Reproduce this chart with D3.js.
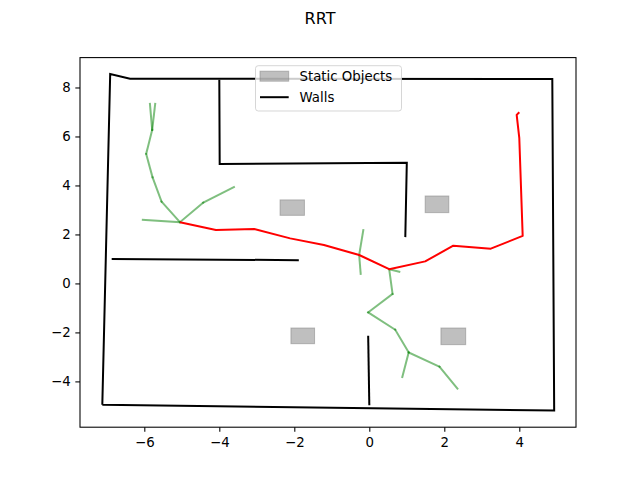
<!DOCTYPE html>
<html>
<head>
<meta charset="utf-8">
<script src="https://cdn.jsdelivr.net/npm/d3@7"></script>
<style>
  body { margin: 0; background: #fff; }
  svg { font-family: "DejaVu Sans", sans-serif; }
</style>
</head>
<body>
<svg id="plot" width="640" height="480"></svg>
<script>
// walls (polylines)
const outerWall = [[-7.12, -4.95], [-6.91, 8.55], [-6.38, 8.36], [4.88, 8.35], [4.93, -5.19], [-7.12, -4.95]]
const wallRoom = [[-4.0, 8.32], [-3.99, 4.88], [1.0, 4.93], [0.96, 1.89]]
const wallMid = [[-6.87, 1.0], [-1.88, 0.95]]
const wallLow = [[-0.03, -2.14], [0.0, -4.97]]
const walls = [outerWall, wallRoom, wallMid, wallLow]

// static objects [xmin, ymin, xmax, ymax]
const obstacles = [
    [-2.38, 2.78, -1.73, 3.41],
    [1.49, 2.89, 2.12, 3.57],
    [-2.09, -2.46, -1.46, -1.82],
    [1.91, -2.5, 2.57, -1.82]
]

// explored tree edges [x1, y1, x2, y2]
const treeEdges = [
    [-5.05, 2.5, -6.04, 2.6],
    [-5.05, 2.5, -4.43, 3.3],
    [-4.43, 3.3, -3.61, 3.93],
    [-5.05, 2.5, -5.54, 3.34],
    [-5.54, 3.34, -5.78, 4.33],
    [-5.78, 4.33, -5.95, 5.29],
    [-5.95, 5.29, -5.79, 6.27],
    [-5.79, 6.27, -5.85, 7.33],
    [-5.79, 6.27, -5.71, 7.33],
    [-0.27, 1.16, -0.16, 2.18],
    [-0.27, 1.16, -0.23, 0.39],
    [0.53, 0.58, 0.8, 0.48],
    [0.53, 0.58, 0.62, -0.43],
    [0.62, -0.43, -0.03, -1.18],
    [-0.03, -1.18, 0.69, -1.89],
    [0.69, -1.89, 1.05, -2.82],
    [1.05, -2.82, 0.88, -3.82],
    [1.05, -2.82, 1.87, -3.4],
    [1.87, -3.4, 2.35, -4.29]
]

// final path
const pathX = [-5.05, -4.09, -3.07, -2.11, -1.21, -0.27, 0.53, 1.49, 2.24, 3.24, 4.09, 4.0, 3.93, 4.0]
const pathY = [2.5, 2.18, 2.22, 1.84, 1.57, 1.16, 0.58, 0.9, 1.54, 1.42, 1.94, 5.93, 6.88, 6.99]

const xTicks = [-6, -4, -2, 0, 2, 4]
const yTicks = [-4, -2, 0, 2, 4, 6, 8]

const margin = ({ top: 57.6, right: 64, bottom: 52.8, left: 80 })
const width = 640
const height = 480

const x = d3.scaleLinear()
    .domain([-7.715, 5.512])
    .range([margin.left, width - margin.right])

const y = d3.scaleLinear()
    .domain([-5.87, 9.22])
    .range([height - margin.bottom, margin.top])

const svg = d3.select("#plot")

const line = d3.line()
    .x(d => x(d[0]))
    .y(d => y(d[1]))

// obstacles
svg.append("g")
    .selectAll("rect")
    .data(obstacles)
    .join("rect")
    .attr("x", d => x(d[0]))
    .attr("y", d => y(d[3]))
    .attr("width", d => x(d[2]) - x(d[0]))
    .attr("height", d => y(d[1]) - y(d[3]))
    .attr("fill", "gray")
    .attr("fill-opacity", 0.5)
    .attr("stroke", "gray")
    .attr("stroke-opacity", 0.5)
    .attr("stroke-width", 1)

// walls
svg.append("g")
    .selectAll("path")
    .data(walls)
    .join("path")
    .attr("fill", "none")
    .attr("stroke", "black")
    .attr("stroke-width", 2)
    .attr("d", line)

// tree
svg.append("g")
    .selectAll("line")
    .data(treeEdges)
    .join("line")
    .attr("x1", d => x(d[0]))
    .attr("y1", d => y(d[1]))
    .attr("x2", d => x(d[2]))
    .attr("y2", d => y(d[3]))
    .attr("stroke", "green")
    .attr("stroke-opacity", 0.5)
    .attr("stroke-width", 2)
    .attr("stroke-linecap", "square")

// path
svg.append("path")
    .datum(pathX.map((v, i) => [v, pathY[i]]))
    .attr("fill", "none")
    .attr("stroke", "red")
    .attr("stroke-width", 2)
    .attr("stroke-linejoin", "round")
    .attr("d", line)

// axes
const xAxis = g => g
    .attr("transform", `translate(0,${height - margin.bottom})`)
    .call(d3.axisBottom(x).tickValues(xTicks).tickSize(4.67).tickPadding(5.5).tickSizeOuter(0))
    .call(g => g.select(".domain").remove())
    .call(g => g.selectAll("text").attr("font-size", 13.33).attr("fill", "black").attr("font-family", "DejaVu Sans"))
    .call(g => g.selectAll("line").attr("stroke-width", 1.07))

const yAxis = g => g
    .attr("transform", `translate(${margin.left},0)`)
    .call(d3.axisLeft(y).tickValues(yTicks).tickSize(4.67).tickPadding(4.67).tickSizeOuter(0))
    .call(g => g.select(".domain").remove())
    .call(g => g.selectAll("text").attr("font-size", 13.33).attr("fill", "black").attr("font-family", "DejaVu Sans"))
    .call(g => g.selectAll("line").attr("stroke-width", 1.07))

svg.append("g").call(xAxis)
svg.append("g").call(yAxis)

svg.append("rect")
    .attr("x", margin.left)
    .attr("y", margin.top)
    .attr("width", width - margin.left - margin.right)
    .attr("height", height - margin.top - margin.bottom)
    .attr("fill", "none")
    .attr("stroke", "black")
    .attr("stroke-width", 1.07)

// legend
const legend = svg.append("g")
legend.append("rect")
    .attr("x", 255.5)
    .attr("y", 65.7)
    .attr("width", 146)
    .attr("height", 45.3)
    .attr("rx", 2.8)
    .attr("fill", "white")
    .attr("fill-opacity", 0.8)
    .attr("stroke", "#cccccc")
    .attr("stroke-opacity", 0.8)
    .attr("stroke-width", 1)
legend.append("rect")
    .attr("x", 260)
    .attr("y", 71.2)
    .attr("width", 28.7)
    .attr("height", 10)
    .attr("fill", "gray")
    .attr("fill-opacity", 0.5)
    .attr("stroke", "gray")
    .attr("stroke-opacity", 0.5)
legend.append("line")
    .attr("x1", 260).attr("x2", 288.7)
    .attr("y1", 97.2).attr("y2", 97.2)
    .attr("stroke", "black")
    .attr("stroke-width", 2)
legend.append("text")
    .attr("x", 299.5).attr("y", 81.2)
    .attr("font-size", 13.33)
    .text("Static Objects")
legend.append("text")
    .attr("x", 299.5).attr("y", 101.6)
    .attr("font-size", 13.33)
    .text("Walls")

// title
svg.append("text")
    .attr("x", 320)
    .attr("y", 24.3)
    .attr("text-anchor", "middle")
    .attr("font-size", 16)
    .text("RRT")
</script>
</body>
</html>
